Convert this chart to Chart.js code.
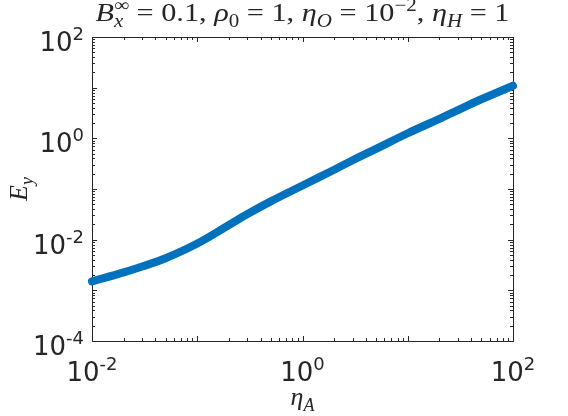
<!DOCTYPE html>
<html>
<head>
<meta charset="utf-8">
<script src="https://cdn.jsdelivr.net/npm/chart.js@4.4.0/dist/chart.umd.min.js"></script>
<style>
    html, body { margin: 0; padding: 0; background: #fff; }
    #wrap { width: 568px; height: 416px; }
</style>
</head>
<body>
<div id="wrap"><canvas id="grafico" width="568" height="416"></canvas></div>
<script>
// valores
const etaA = [0.01, 0.02, 0.03, 0.05, 0.1, 0.2, 0.3, 0.5, 1, 2, 3, 5, 10, 20, 30, 50, 100];
const ey = [0.0015, 0.00226, 0.00295, 0.0043, 0.0084, 0.0195, 0.032, 0.057, 0.117, 0.24, 0.37, 0.62, 1.26, 2.43, 3.6, 5.9, 10.9];

const xTicks = [0.01, 1, 100];
const xTickExp = ["-2", "0", "2"];
const yTicks = [1e-4, 1e-2, 1, 100];
const yTickExp = ["-4", "-2", "0", "2"];
const xDecadas = [0.01, 0.1, 1, 10, 100];
const yDecadas = [1e-4, 1e-3, 1e-2, 1e-1, 1, 10, 100];

const corTexto = "#262626";
const sans = "'DejaVu Sans', sans-serif";
const serif = "'Liberation Serif', serif";

function fonte(size, italic) {
    return (italic ? "italic " : "") + size + "px " + serif;
}

// desenha texto estilo LaTeX com sub/sobrescritos, centrado em cx
function desenharRuns(ctx, runs, cx, base, size, largura) {
    const small = Math.round(size * 0.7);
    let total = 0;
    let ultimoW = 0;
    const medidos = runs.map(r => {
        const s = r.k ? small : size;
        ctx.font = fonte(s, r.i);
        const w = ctx.measureText(r.t).width;
        let avanco = w;
        if (r.stack) avanco = Math.max(0, w - ultimoW);
        ultimoW = w;
        total += avanco;
        return { r, s, avanco };
    });
    let fx = 1;
    if (largura) fx = Math.min(1.3, Math.max(0.9, largura / total));
    ctx.save();
    ctx.translate(cx, base);
    ctx.scale(fx, 1);
    let x = -total / 2;
    let inicioAnterior = x;
    ctx.fillStyle = corTexto;
    ctx.textAlign = "left";
    ctx.textBaseline = "alphabetic";
    medidos.forEach(m => {
        ctx.font = fonte(m.s, m.r.i);
        let dy = 0;
        if (m.r.k === "sub") dy = size * 0.22;
        if (m.r.k === "sup") dy = -size * 0.4;
        const px = m.r.stack ? inicioAnterior : x;
        ctx.fillText(m.r.t, px, dy);
        if (!m.r.stack) inicioAnterior = x;
        x += m.avanco;
    });
    ctx.restore();
}

const tituloRuns = [
    { t: "B", i: 1 },
    { t: "\u221E", k: "sup" },
    { t: "x", i: 1, k: "sub", stack: 1 },
    { t: " = 0.1, " },
    { t: "\u03C1", i: 1 },
    { t: "0", k: "sub" },
    { t: " = 1, " },
    { t: "\u03B7", i: 1 },
    { t: "O", i: 1, k: "sub" },
    { t: " = 10" },
    { t: "\u22122", k: "sup" },
    { t: ", " },
    { t: "\u03B7", i: 1 },
    { t: "H", i: 1, k: "sub" },
    { t: " = 1" }
];

const moldura = {
    id: "moldura",
    beforeDatasetsDraw(chart) {
        const ctx = chart.ctx;
        const a = chart.chartArea;
        const sx = chart.scales.x;
        const sy = chart.scales.y;
        ctx.save();
        ctx.strokeStyle = corTexto;
        ctx.lineWidth = 1;
        ctx.strokeRect(Math.round(a.left) + 0.5, Math.round(a.top) + 0.5,
            Math.round(a.right - a.left), Math.round(a.bottom - a.top));

        const linha = (x1, y1, x2, y2) => {
            ctx.beginPath();
            ctx.moveTo(x1, y1);
            ctx.lineTo(x2, y2);
            ctx.stroke();
        };
        const tickX = (v, len) => {
            const px = Math.round(sx.getPixelForValue(v)) + 0.5;
            linha(px, a.bottom, px, a.bottom - len);
            linha(px, a.top, px, a.top + len);
        };
        const tickY = (v, len) => {
            const py = Math.round(sy.getPixelForValue(v)) + 0.5;
            linha(a.left, py, a.left + len, py);
            linha(a.right, py, a.right - len, py);
        };
        xDecadas.forEach((d, i) => {
            tickX(d, 5);
            if (i < xDecadas.length - 1) for (let m = 2; m < 10; m++) tickX(d * m, 3);
        });
        yDecadas.forEach((d, i) => {
            tickY(d, 5);
            if (i < yDecadas.length - 1) for (let m = 2; m < 10; m++) tickY(d * m, 3);
        });
        ctx.restore();
    },
    afterDraw(chart) {
        const ctx = chart.ctx;
        const a = chart.chartArea;
        const sx = chart.scales.x;
        const sy = chart.scales.y;
        ctx.save();
        ctx.fillStyle = corTexto;
        ctx.textBaseline = "alphabetic";

        // rótulos do eixo x
        xTicks.forEach((v, i) => {
            const px = sx.getPixelForValue(v);
            ctx.font = "26px " + sans;
            const w1 = ctx.measureText("10").width;
            ctx.font = "18px " + sans;
            const w2 = ctx.measureText(xTickExp[i]).width;
            const x0 = px - (w1 + w2) / 2;
            ctx.textAlign = "left";
            ctx.font = "26px " + sans;
            ctx.fillText("10", x0, a.bottom + 40);
            ctx.font = "18px " + sans;
            ctx.fillText(xTickExp[i], x0 + w1, a.bottom + 29);
        });

        // rótulos do eixo y
        yTicks.forEach((v, i) => {
            const py = sy.getPixelForValue(v);
            ctx.font = "18px " + sans;
            const w2 = ctx.measureText(yTickExp[i]).width;
            const xr = a.left - 8;
            ctx.textAlign = "right";
            ctx.fillText(yTickExp[i], xr, py + 3);
            ctx.font = "26px " + sans;
            ctx.fillText("10", xr - w2, py + 14);
        });

        // título e rótulos dos eixos
        desenharRuns(ctx, tituloRuns, (a.left + a.right) / 2, 21, 26, 414);
        desenharRuns(ctx, [{ t: "\u03B7", i: 1 }, { t: "A", i: 1, k: "sub" }],
            (a.left + a.right) / 2, 405, 26);

        ctx.translate(27, (a.top + a.bottom) / 2);
        ctx.rotate(-Math.PI / 2);
        desenharRuns(ctx, [{ t: "E", i: 1 }, { t: "y", i: 1, k: "sub" }], 0, 0, 26);
        ctx.restore();
    }
};

new Chart(document.getElementById("grafico"), {
    type: "line",
    data: {
        datasets: [{
            data: etaA.map((x, i) => ({ x: x, y: ey[i] })),
            borderColor: "#0072BD",
            backgroundColor: "#0072BD",
            borderWidth: 8,
            borderCapStyle: "round",
            borderJoinStyle: "round",
            pointRadius: 0,
            tension: 0.4,
            fill: false,
            clip: false
        }]
    },
    options: {
        responsive: false,
        animation: false,
        devicePixelRatio: 1,
        layout: { padding: { top: 37, right: 55, bottom: 0, left: 0 } },
        plugins: {
            legend: { display: false },
            tooltip: { enabled: false },
            title: { display: false }
        },
        scales: {
            x: {
                type: "logarithmic",
                min: 0.01,
                max: 100,
                grid: { display: false, drawTicks: false },
                border: { display: false },
                ticks: { display: false },
                afterFit(s) { s.height = 75; }
            },
            y: {
                type: "logarithmic",
                min: 1e-4,
                max: 100,
                grid: { display: false, drawTicks: false },
                border: { display: false },
                ticks: { display: false },
                afterFit(s) { s.width = 92; }
            }
        }
    },
    plugins: [moldura]
});
</script>
</body>
</html>
